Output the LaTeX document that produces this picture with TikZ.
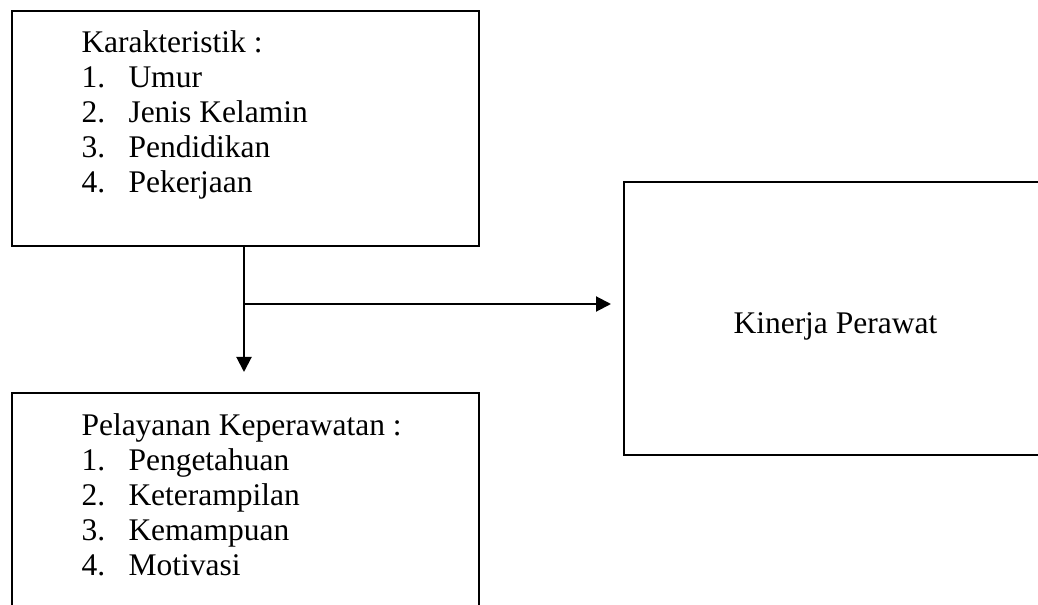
\documentclass[tikz,border=0pt]{standalone}
\usepackage{fontspec}
\setmainfont{Liberation Serif}
\usetikzlibrary{arrows.meta,calc}
\begin{document}
\begin{tikzpicture}[x=0.4pt,y=-0.4pt,
  box/.style={draw=black,line width=0.8pt,inner sep=0pt,minimum width=#1},
  txt/.style={anchor=base west,inner sep=0pt,font=\fontsize{12.6pt}{14pt}\selectfont},
  conn/.style={line width=0.8pt,-{Triangle[length=6pt,width=6pt]}}]
\clip (0,0) rectangle (1038,605);
\fill[white] (0,0) rectangle (1038,605);
% boxes
\node[box=186.8pt,minimum height=94pt] (b1) at (245.5,128.5) {};
\node[box=186.8pt,minimum height=98pt] (b2) at (245.5,515.5) {};
\node[box=174.4pt,minimum height=109.2pt] (b3) at (842,318.5) {};
% texts box 1
\newcommand{\itm}[2]{\makebox[18.8pt][l]{#1}#2}
\node[txt] (k0) at (81,53) {Karakteristik :};
\node[txt] (k1) at (81,88) {\itm{1.}{Umur}};
\node[txt] (k2) at (81,123) {\itm{2.}{Jenis Kelamin}};
\node[txt] (k3) at (81,158) {\itm{3.}{Pendidikan}};
\node[txt] (k4) at (81,193) {\itm{4.}{Pekerjaan}};
% texts box 2
\node[txt] (p0) at (81,435) {Pelayanan Keperawatan :};
\node[txt] (p1) at (81,470) {\itm{1.}{Pengetahuan}};
\node[txt] (p2) at (81,505) {\itm{2.}{Keterampilan}};
\node[txt] (p3) at (81,540) {\itm{3.}{Kemampuan}};
\node[txt] (p4) at (81,575) {\itm{4.}{Motivasi}};
% box 3 text
\node[txt] (kp) at (733,333) {Kinerja Perawat};
% connectors
\coordinate (top) at (244,246);
\coordinate (j) at (244,304);
\draw[line width=0.8pt] (top) -- (j);
\draw[conn,shorten >=8pt] (j) -- (j |- b2.north);
\draw[conn,shorten >=4.8pt] (j) -- (j -| b3.west);
\end{tikzpicture}
\end{document}
